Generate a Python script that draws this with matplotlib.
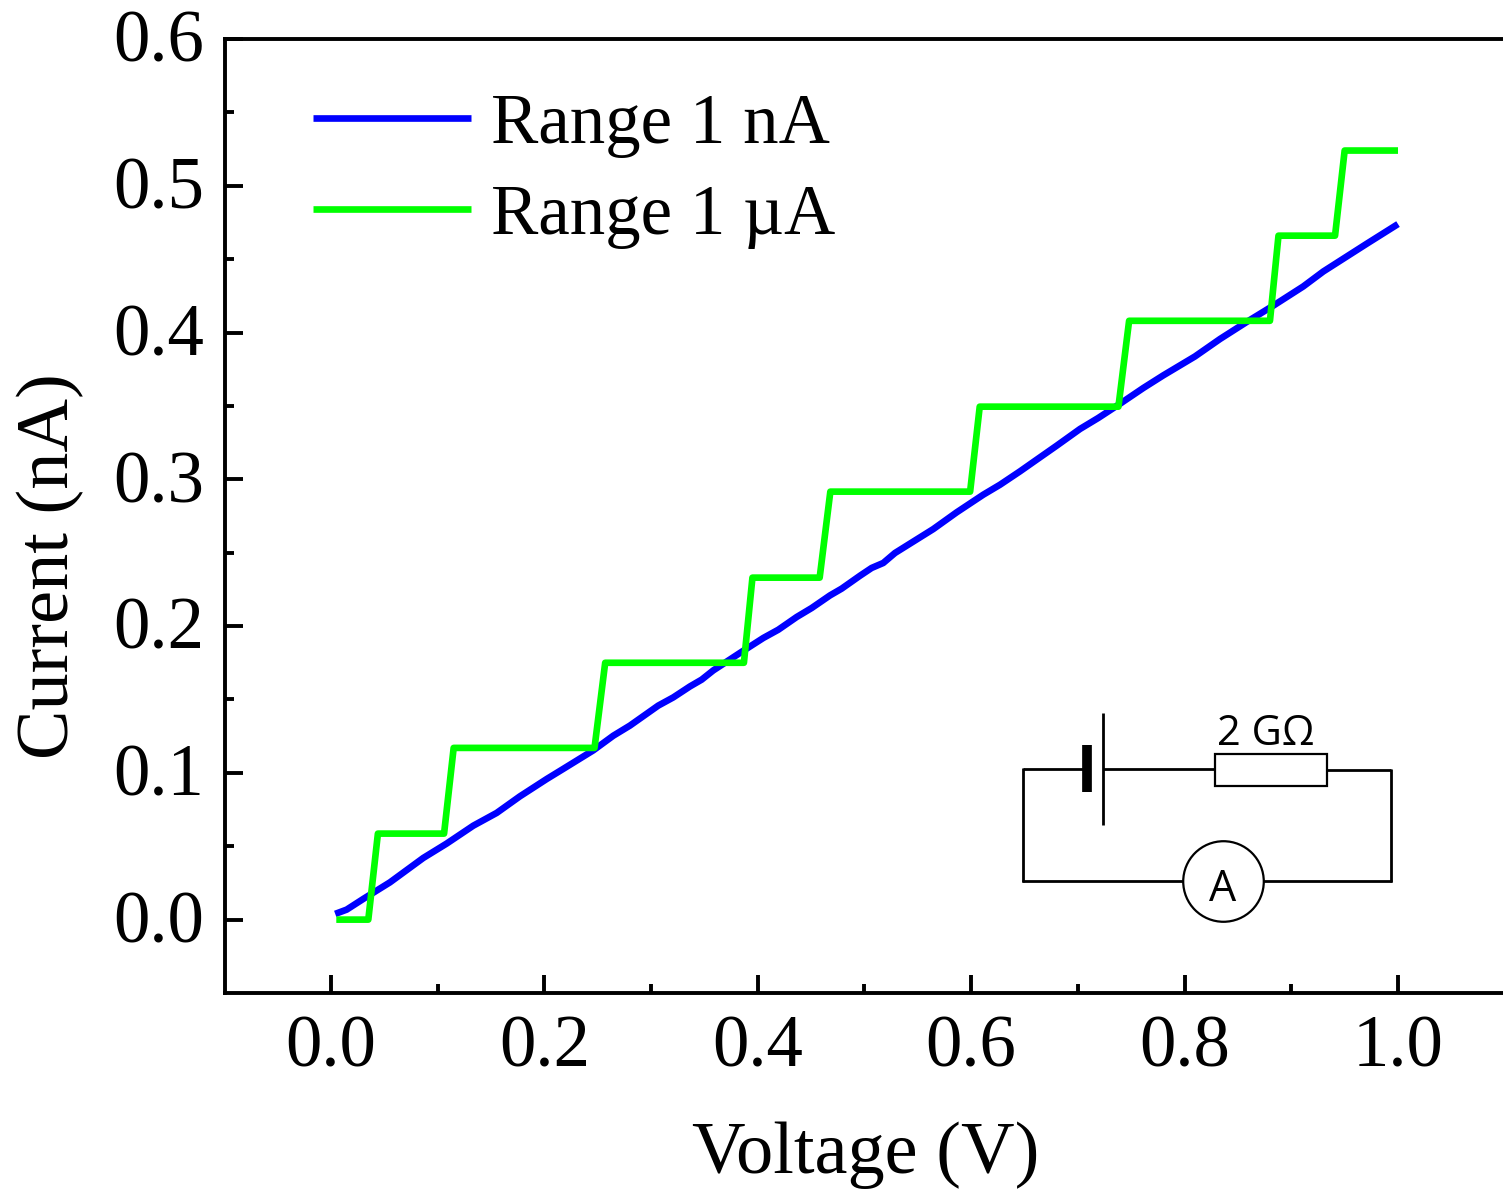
import numpy as np
import matplotlib
matplotlib.use('Agg')
import matplotlib.pyplot as plt
from matplotlib.lines import Line2D
from matplotlib.patches import Rectangle
from matplotlib.transforms import ScaledTranslation

W, H = 1503, 1191

# blue curve
v_1nA = [0.004, 0.0147, 0.0303, 0.0553, 0.0865, 0.1084, 0.1334, 0.1553, 0.1771, 0.2022, 0.2177, 0.2458, 0.2646, 0.2802,
         0.3067, 0.3208, 0.3365, 0.3474, 0.3583, 0.3833, 0.4052, 0.4192, 0.4365, 0.4505, 0.4677, 0.4786, 0.4958, 0.5067,
         0.5176, 0.5286, 0.5645, 0.5864, 0.6113, 0.6270, 0.6457, 0.6614, 0.6801, 0.7020, 0.7191, 0.7395, 0.7613, 0.7800,
         0.8097, 0.8332, 0.8582, 0.8831, 0.9112, 0.9300, 0.9707, 1.0]
i_1nA = [0.0039, 0.0068, 0.0141, 0.0254, 0.0420, 0.0518, 0.0640, 0.0727, 0.0840, 0.0958, 0.1027, 0.1153, 0.1253, 0.1322,
         0.1458, 0.1514, 0.1589, 0.1635, 0.1698, 0.1817, 0.1919, 0.1975, 0.2062, 0.2123, 0.2209, 0.2255, 0.2343, 0.2396,
         0.2430, 0.2498, 0.2661, 0.2775, 0.2895, 0.2963, 0.3054, 0.3134, 0.3229, 0.3343, 0.3418, 0.3515, 0.3622, 0.3708,
         0.3837, 0.3956, 0.4072, 0.4183, 0.4314, 0.4416, 0.4605, 0.4739]

# green staircase
v_1uA = [0.005, 0.035, 0.044, 0.106, 0.115, 0.247, 0.257, 0.387, 0.395, 0.458, 0.468, 0.599, 0.608, 0.738, 0.748, 0.880, 0.888, 0.941, 0.950, 1.0]
i_1uA = [0.0, 0.0, 0.0586, 0.0586, 0.117, 0.117, 0.175, 0.175, 0.233, 0.233, 0.2916, 0.2916, 0.3495, 0.3495, 0.408, 0.408, 0.466, 0.466, 0.524, 0.524]

x_ticks = [0.0, 0.2, 0.4, 0.6, 0.8, 1.0]
y_ticks = [0.0, 0.1, 0.2, 0.3, 0.4, 0.5, 0.6]

plt.rcParams['font.family'] = 'Liberation Serif'

fig = plt.figure(figsize=(W/100, H/100), dpi=100, facecolor='white')
ax = fig.add_axes([225/W, 1-993/H, (W-225)/W, (993-39)/H])

ax.plot(v_1nA, i_1nA, color='#0000ff', lw=4.8, label='Range 1 nA', solid_joinstyle='round', solid_capstyle='butt')
ax.plot(v_1uA, i_1uA, color='#00ff00', lw=4.8, label='Range 1 µA', solid_joinstyle='round', solid_capstyle='butt')

ax.set_xlim(-0.0993, 1.0984)
ax.set_ylim(-0.05, 0.6)
ax.set_xticks(x_ticks)
ax.set_yticks(y_ticks)
ax.set_xticklabels(['%.1f' % t for t in x_ticks])
ax.set_yticklabels(['%.1f' % t for t in y_ticks])
ax.set_xticks(np.arange(0.1, 1.0, 0.2), minor=True)
ax.set_yticks(np.arange(-0.05, 0.6, 0.1)[1:], minor=True)

ax.tick_params(which='major', direction='in', length=13, width=2.8, labelsize=52.5, pad=16)
ax.tick_params(which='minor', direction='in', length=6.5, width=2.8)
ax.tick_params(axis='y', which='major', pad=15)
ax.spines['right'].set_visible(False)
for s in ['left', 'bottom', 'top']:
    ax.spines[s].set_linewidth(2.8)

# y tick labels sit a little high in the original
shift = ScaledTranslation(0, 3/100, fig.dpi_scale_trans)
for lab in ax.get_yticklabels():
    lab.set_transform(lab.get_transform() + shift)

ax.set_xlabel('Voltage (V)', fontsize=53.5, labelpad=28, x=0.5016)
ax.set_ylabel('Current (nA)', fontsize=53.5, labelpad=21, y=0.4476)

ax.legend(loc='upper left', bbox_to_anchor=(0.0688, 0.9435), frameon=False, fontsize=51,
          handlelength=2.23, handletextpad=0.28, labelspacing=0.37, borderpad=0, borderaxespad=0)


# circuit inset, drawn in picture pixels
def px(x, y):
    return x/W, 1-y/H


def wire(x0, y0, x1, y1, lw=2):
    a, b = px(x0, y0)
    c, d = px(x1, y1)
    fig.add_artist(Line2D([a, c], [b, d], color='black', lw=lw, solid_capstyle='butt'))


wire(1023, 769, 1083, 769)
wire(1103, 769, 1215, 769)
wire(1327, 770, 1391, 770)
wire(1391, 769, 1391, 882)
wire(1023, 768, 1023, 882)
wire(1022, 881, 1183, 881)
wire(1263, 881, 1392, 881)
wire(1103, 713, 1103, 825)
wire(1087, 745, 1087, 792, lw=7)

fig.add_artist(Rectangle(px(1215, 786), 112/W, 32/H, transform=fig.transFigure, fill=False, ec='black', lw=1.6))
fig.add_artist(Line2D([px(1223, 881)[0]], [px(1223, 881)[1]], marker='o', ms=58, mfc='none', mec='black', mew=1.6, ls='none'))

fig.text(*px(1266, 734), '2 GΩ', fontsize=30, family='Open Sans', ha='center', va='center')
fig.text(*px(1223, 890), 'A', fontsize=31, family='Open Sans', ha='center', va='center')

plt.savefig('out.png', dpi=100)
plt.close(fig)
